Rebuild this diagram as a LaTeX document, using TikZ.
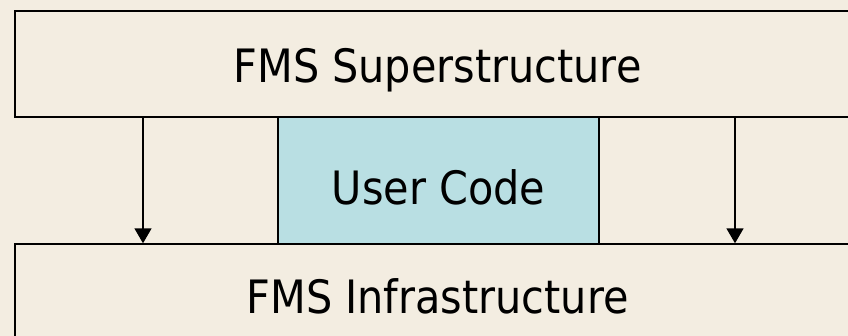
\documentclass[tikz,border=0pt]{standalone}
\usepackage{fontspec}
\setmainfont{DejaVu Sans Condensed}
\usetikzlibrary{arrows.meta}
\definecolor{parchment}{RGB}{243,237,225}
\definecolor{usercyan}{RGB}{185,223,227}
\begin{document}
\begin{tikzpicture}[x=1pt,y=-1pt,
    layer/.style={draw=black, line width=1.4pt, inner sep=0pt, text depth=0pt, font=\fontsize{46}{50}\selectfont},
    arr/.style={-{Triangle[width=17pt,length=15pt]}, line width=1.5pt}]
        % background
        \fill[parchment] (0,0) rectangle (848,336);
        \useasboundingbox (0,0) rectangle (848,336);

        % layers
        \node[layer, text height=38pt, minimum width=845pt, minimum height=106pt] (super) at (437.5,64) {FMS Superstructure};
        \node[layer, text height=32pt, minimum width=845pt, minimum height=106pt] (infra) at (437.5,297) {FMS Infrastructure};
        \node[layer, text height=49pt, fill=usercyan, minimum width=321pt, minimum height=127pt] (user) at (438.5,180.5) {User Code};

        % arrows
        \coordinate (left) at (143,0);
        \coordinate (right) at (735,0);
        \draw[arr] (super.south -| left) -- (infra.north -| left);
        \draw[arr] (super.south -| right) -- (infra.north -| right);
      \end{tikzpicture}
\end{document}
